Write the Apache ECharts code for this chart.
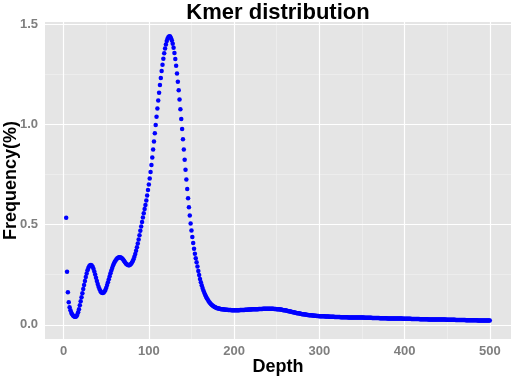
<!DOCTYPE html>
<html>
<head>
<meta charset="utf-8">
<script src="https://cdn.jsdelivr.net/npm/echarts@6/dist/echarts.min.js"></script>
<style>
  html, body { margin: 0; padding: 0; background: #fff; }
  #chart { width: 512px; height: 379px; }
</style>
</head>
<body>
<div id="chart"></div>
<script>
// kmer depth bins start at 3, one point per depth up to 500
var depthFirst = 3
var frequency = [
  0.534, 0.265, 0.163, 0.113, 0.088, 0.072, 0.060, 0.052, 0.046, 0.042,
  0.040, 0.040, 0.043, 0.050, 0.062, 0.078, 0.097, 0.117, 0.138, 0.158,
  0.178, 0.198, 0.218, 0.238, 0.256, 0.272, 0.284, 0.292, 0.297, 0.298,
  0.296, 0.290, 0.280, 0.266, 0.251, 0.235, 0.219, 0.204, 0.190, 0.179,
  0.170, 0.163, 0.160, 0.159, 0.161, 0.166, 0.174, 0.185, 0.198, 0.212,
  0.227, 0.242, 0.257, 0.271, 0.284, 0.296, 0.306, 0.314, 0.321, 0.327,
  0.332, 0.335, 0.337, 0.337, 0.336, 0.333, 0.329, 0.324, 0.318, 0.312,
  0.306, 0.302, 0.299, 0.297, 0.297, 0.299, 0.303, 0.309, 0.317, 0.327,
  0.339, 0.353, 0.369, 0.387, 0.406, 0.426, 0.447, 0.469, 0.491, 0.513,
  0.535, 0.557, 0.578, 0.598, 0.620, 0.645, 0.672, 0.700, 0.730, 0.762,
  0.797, 0.835, 0.875, 0.915, 0.956, 0.997, 1.038, 1.079, 1.119, 1.158,
  1.196, 1.232, 1.266, 1.298, 1.328, 1.355, 1.379, 1.399, 1.416, 1.428,
  1.436, 1.440, 1.438, 1.430, 1.418, 1.402, 1.382, 1.356, 1.326, 1.292,
  1.254, 1.213, 1.170, 1.124, 1.076, 1.027, 0.977, 0.926, 0.875, 0.824,
  0.774, 0.725, 0.677, 0.631, 0.587, 0.545, 0.506, 0.470, 0.438, 0.408,
  0.380, 0.354, 0.332, 0.312, 0.291, 0.269, 0.248, 0.229, 0.212, 0.197,
  0.183, 0.171, 0.160, 0.150, 0.141, 0.133, 0.126, 0.119, 0.113, 0.108,
  0.103, 0.099, 0.095, 0.092, 0.089, 0.087, 0.085, 0.083, 0.082, 0.081,
  0.080, 0.079, 0.078, 0.077, 0.077, 0.076, 0.076, 0.075, 0.075, 0.075,
  0.074, 0.074, 0.074, 0.074, 0.073, 0.073, 0.073, 0.073, 0.073, 0.073,
  0.073, 0.073, 0.073, 0.073, 0.074, 0.074, 0.074, 0.074, 0.074, 0.074,
  0.075, 0.075, 0.075, 0.075, 0.076, 0.076, 0.076, 0.076, 0.077, 0.077,
  0.077, 0.077, 0.078, 0.078, 0.078, 0.078, 0.079, 0.079, 0.079, 0.079,
  0.079, 0.080, 0.080, 0.080, 0.080, 0.080, 0.080, 0.080, 0.080, 0.080,
  0.080, 0.080, 0.080, 0.080, 0.079, 0.079, 0.079, 0.078, 0.078, 0.077,
  0.077, 0.076, 0.076, 0.075, 0.074, 0.073, 0.073, 0.072, 0.071, 0.070,
  0.069, 0.068, 0.067, 0.066, 0.065, 0.064, 0.063, 0.062, 0.061, 0.060,
  0.059, 0.058, 0.057, 0.057, 0.056, 0.055, 0.054, 0.053, 0.053, 0.052,
  0.051, 0.051, 0.050, 0.049, 0.049, 0.048, 0.048, 0.047, 0.047, 0.046,
  0.046, 0.045, 0.045, 0.045, 0.044, 0.044, 0.044, 0.043, 0.043, 0.043,
  0.042, 0.042, 0.042, 0.042, 0.041, 0.041, 0.041, 0.041, 0.041, 0.040,
  0.040, 0.040, 0.040, 0.040, 0.040, 0.039, 0.039, 0.039, 0.039, 0.039,
  0.039, 0.039, 0.038, 0.038, 0.038, 0.038, 0.038, 0.038, 0.038, 0.038,
  0.038, 0.037, 0.037, 0.037, 0.037, 0.037, 0.037, 0.037, 0.037, 0.037,
  0.037, 0.036, 0.036, 0.036, 0.036, 0.036, 0.036, 0.036, 0.036, 0.036,
  0.035, 0.035, 0.035, 0.035, 0.035, 0.035, 0.035, 0.035, 0.035, 0.034,
  0.034, 0.034, 0.034, 0.034, 0.034, 0.034, 0.034, 0.034, 0.033, 0.033,
  0.033, 0.033, 0.033, 0.033, 0.033, 0.033, 0.033, 0.032, 0.032, 0.032,
  0.032, 0.032, 0.032, 0.032, 0.032, 0.032, 0.031, 0.031, 0.031, 0.031,
  0.031, 0.031, 0.031, 0.031, 0.031, 0.030, 0.030, 0.030, 0.030, 0.030,
  0.030, 0.030, 0.030, 0.030, 0.030, 0.029, 0.029, 0.029, 0.029, 0.029,
  0.029, 0.029, 0.029, 0.029, 0.029, 0.028, 0.028, 0.028, 0.028, 0.028,
  0.028, 0.028, 0.028, 0.028, 0.028, 0.027, 0.027, 0.027, 0.027, 0.027,
  0.027, 0.027, 0.027, 0.027, 0.027, 0.026, 0.026, 0.026, 0.026, 0.026,
  0.026, 0.026, 0.026, 0.026, 0.026, 0.026, 0.025, 0.025, 0.025, 0.025,
  0.025, 0.025, 0.025, 0.025, 0.025, 0.025, 0.025, 0.024, 0.024, 0.024,
  0.024, 0.024, 0.024, 0.024, 0.024, 0.024, 0.024, 0.024, 0.024, 0.023,
  0.023, 0.023, 0.023, 0.023, 0.023, 0.023, 0.023, 0.023, 0.023, 0.023,
  0.023, 0.023, 0.023, 0.022, 0.022, 0.022, 0.022, 0.022, 0.022, 0.022,
  0.022, 0.022, 0.022, 0.022, 0.022, 0.022, 0.022, 0.022
]

var xTicks = [0, 100, 200, 300, 400, 500]
var xMinor = [50, 150, 250, 350, 450]
var yTicks = [0, 0.5, 1.0, 1.5]
var yMinor = [0.25, 0.75, 1.25]

var points = []
for (var i = 0; i < frequency.length; i++) {
  points.push([depthFirst + i, frequency[i]])
}

function gridLines (axis, vals, color, width) {
  return vals.map(function (v) {
    var o = { lineStyle: { color: color, width: width, type: 'solid' } }
    o[axis] = v
    return o
  })
}

var chart = echarts.init(document.getElementById('chart'))
var labelStyle = { color: '#7f7f7f', fontSize: 13, fontWeight: 'bold', fontFamily: 'Liberation Sans' }
var nameStyle = { color: '#000', fontSize: 18, fontWeight: 'bold', fontFamily: 'Liberation Sans' }

chart.setOption({
  animation: false,
  title: {
    text: 'Kmer distribution',
    left: 273,
    textAlign: 'center',
    top: -3,
    textStyle: { color: '#000', fontSize: 22, fontWeight: 'bold', fontFamily: 'Liberation Sans' }
  },
  grid: {
    left: 45, right: 1, top: 22, bottom: 40,
    outerBoundsMode: 'none',
    containLabel: false,
    show: true, backgroundColor: '#e5e5e5', borderWidth: 0
  },
  xAxis: {
    type: 'value',
    min: -21.85,
    max: 524.85,
    name: 'Depth',
    nameLocation: 'middle',
    nameGap: 19,
    nameMoveOverlap: false,
    nameTextStyle: nameStyle,
    axisLine: { show: false },
    axisTick: { show: true, length: 4, customValues: xTicks, lineStyle: { color: '#7f7f7f' } },
    axisLabel: Object.assign({ margin: 6, customValues: xTicks }, labelStyle),
    splitLine: { show: false }
  },
  yAxis: {
    type: 'value',
    min: -0.0709,
    max: 1.5109,
    name: 'Frequency(%)',
    nameLocation: 'middle',
    nameGap: 25,
    nameMoveOverlap: false,
    nameTextStyle: nameStyle,
    axisLine: { show: false },
    axisTick: { show: true, length: 4, customValues: yTicks, lineStyle: { color: '#7f7f7f' } },
    axisLabel: Object.assign({
      margin: 7,
      customValues: yTicks,
      formatter: function (v) { return v.toFixed(1) }
    }, labelStyle),
    splitLine: { show: false }
  },
  series: [
    {
      type: 'line',
      data: [],
      silent: true,
      z: 1,
      markLine: {
        silent: true,
        symbol: ['none', 'none'],
        label: { show: false },
        animation: false,
        data: [].concat(
          gridLines('xAxis', xMinor, '#f2f2f2', 0.6),
          gridLines('yAxis', yMinor, '#f2f2f2', 0.6),
          gridLines('xAxis', xTicks, '#ffffff', 1.2),
          gridLines('yAxis', yTicks, '#ffffff', 1.2)
        )
      }
    },
    {
      type: 'scatter',
      data: points,
      symbolSize: 4.5,
      zlevel: 1,
      z: 3,
      itemStyle: { color: '#0000ff', opacity: 1 }
    }
  ]
})
</script>
</body>
</html>
